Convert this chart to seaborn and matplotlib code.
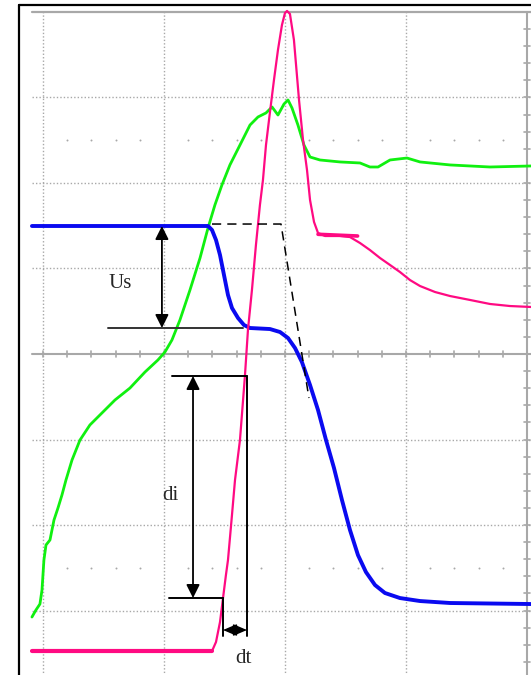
import numpy as np
import seaborn as sns
import matplotlib.pyplot as plt

# scope traces, read in screen divisions (x: time div, y: amplitude div)
blue_t = [-0.091, 1.364, 1.397, 1.430, 1.463, 1.496, 1.529, 1.562, 1.612, 1.661, 1.711, 1.876,
          1.959, 2.025, 2.083, 2.140, 2.207, 2.273, 2.339, 2.405, 2.471, 2.537, 2.603, 2.669,
          2.744, 2.826, 2.950, 3.116, 3.364, 4.033]
blue_v = [1.497, 1.497, 1.450, 1.333, 1.158, 0.924, 0.690, 0.538, 0.421, 0.339, 0.304, 0.292,
          0.257, 0.187, 0.070, -0.094, -0.363, -0.655, -1.006, -1.333, -1.708, -2.058, -2.351, -2.550,
          -2.702, -2.795, -2.854, -2.889, -2.912, -2.924]

green_t = [-0.091, -0.058, -0.025, -0.008, 0.008, 0.025, 0.058, 0.091, 0.124, 0.157, 0.190, 0.240,
           0.306, 0.388, 0.471, 0.595, 0.719, 0.843, 0.950, 1.008, 1.066, 1.132, 1.215, 1.298,
           1.364, 1.421, 1.479, 1.545, 1.628, 1.711, 1.777, 1.843, 1.893, 1.942, 1.992, 2.025,
           2.058, 2.107, 2.157, 2.207, 2.289, 2.455, 2.620, 2.702, 2.769, 2.868, 3.008, 3.116,
           3.364, 3.694, 4.033]
green_v = [-3.076, -2.994, -2.924, -2.760, -2.409, -2.234, -2.175, -1.942, -1.801, -1.649, -1.474, -1.240,
           -1.006, -0.830, -0.713, -0.538, -0.398, -0.211, -0.070, 0.023, 0.164, 0.398, 0.749, 1.123,
           1.474, 1.743, 1.977, 2.211, 2.444, 2.678, 2.772, 2.819, 2.889, 2.795, 2.924, 2.971,
           2.877, 2.678, 2.444, 2.304, 2.269, 2.246, 2.234, 2.187, 2.187, 2.269, 2.292, 2.246,
           2.211, 2.187, 2.199]

pink_t = [-0.091, 1.397, 1.430, 1.463, 1.488, 1.512, 1.529, 1.562, 1.587, 1.628, 1.669, 1.694,
          1.727, 1.760, 1.793, 1.818, 1.843, 1.876, 1.909, 1.942, 1.975, 2.000, 2.017, 2.041,
          2.074, 2.116, 2.149, 2.182, 2.207, 2.240, 2.273, 2.331, 2.455, 2.537, 2.620, 2.702,
          2.785, 2.868, 2.950, 3.033, 3.116, 3.240, 3.364, 3.529, 3.694, 3.860, 4.033]
pink_v = [-3.474, -3.474, -3.368, -3.135, -2.854, -2.585, -2.409, -1.883, -1.474, -1.006, -0.257, 0.281,
          0.749, 1.275, 1.743, 2.035, 2.444, 2.830, 3.205, 3.556, 3.848, 3.988, 4.012, 3.977,
          3.673, 2.971, 2.503, 2.152, 1.801, 1.544, 1.415, 1.380, 1.380, 1.368, 1.298, 1.216,
          1.123, 1.041, 0.959, 0.865, 0.795, 0.725, 0.678, 0.632, 0.585, 0.561, 0.550]

# annotation geometry (divisions)
dash_t = [1.397, 1.967, 2.198]
dash_v = [1.520, 1.520, -0.515]
us_level = [1.497, 0.304]
di_level = [-0.257, -2.854]
dt_span = [1.488, 1.686]

GRID = '#a8a8a8'
FONT = ['Liberation Serif', 'DejaVu Serif']

sns.set_style('white')
fig = plt.figure(figsize=(5.31, 6.75), dpi=100)
ax = fig.add_axes([0, 0, 1, 1])
ax.set_xlim(-0.355, 4.033)
ax.set_ylim(-3.754, 4.140)
ax.axis('off')

# graticule
for t in [0, 1, 2, 3]:
    ax.plot([t, t], [-3.8, 4.0], color=GRID, lw=1, ls=(0, (1, 1.5)), zorder=1)
for v in [-3, -2, -1, 1, 2, 3]:
    ax.plot([-0.09, 4.05], [v, v], color=GRID, lw=1, ls=(0, (1, 1.5)), zorder=1)
ax.plot([-0.09, 4.05], [0, 0], color=GRID, lw=1.5, zorder=1)
ax.plot([4.0, 4.0], [-3.8, 4.0], color=GRID, lw=1.5, zorder=1)
ax.plot([-0.09, 4.05], [4.0, 4.0], color=GRID, lw=1.6, zorder=1)
for t in np.arange(-0.0, 4.01, 0.2):
    ax.plot([t, t], [-0.035, 0.035], color=GRID, lw=1.2, zorder=1)
for v in np.arange(-3.8, 4.0, 0.2):
    ax.plot([3.975, 4.025], [v, v], color=GRID, lw=1.2, zorder=1)
dots = [t for t in np.arange(0.2, 4.0, 0.2) if abs(t - round(t)) > 0.05]
for v in [2.5, -2.5]:
    ax.scatter(dots, [v] * len(dots), s=2.0, color=GRID, lw=0, zorder=1)

# outer frame
ax.plot([-0.198, 4.1], [4.082, 4.082], color='black', lw=1.6, zorder=2)
ax.plot([-0.198, -0.198], [-3.8, 4.082], color='black', lw=1.6, zorder=2)

# traces
sns.lineplot(x=green_t, y=green_v, ax=ax, color='#10f010', lw=2.0, sort=False, estimator=None, zorder=3)
sns.lineplot(x=blue_t, y=blue_v, ax=ax, color='#0a0af0', lw=2.8, sort=False, estimator=None, zorder=4)
sns.lineplot(x=pink_t, y=pink_v, ax=ax, color='#ff0a82', lw=1.6, sort=False, estimator=None, zorder=5)
ax.plot([-0.091, 1.397], [-3.474, -3.474], color='#ff0a82', lw=3.0, zorder=5)
ax.plot([2.273, 2.6], [1.40, 1.38], color='#ff0a82', lw=2.6, zorder=5)

# annotations
ax.plot(dash_t, dash_v, color='black', lw=1.1, ls=(0, (6, 4)), zorder=6)
arr = dict(arrowstyle='<|-|>', color='black', lw=1.3, mutation_scale=20, shrinkA=0, shrinkB=0)
ax.plot([0.537, 1.653], [us_level[1], us_level[1]], color='#333333', lw=1.4, zorder=6)
ax.annotate('', xy=(0.983, us_level[0]), xytext=(0.983, us_level[1]), arrowprops=arr, zorder=6)
ax.text(0.636, 0.830, 'Us', fontsize=15, family=FONT, ha='center', va='center')

ax.plot([1.066, 1.686], [di_level[0], di_level[0]], color='black', lw=1.4, zorder=6)
ax.plot([1.041, 1.488], [di_level[1], di_level[1]], color='black', lw=1.4, zorder=6)
ax.plot([1.686, 1.686], [di_level[0], -3.298], color='black', lw=1.4, zorder=6)
ax.plot([1.488, 1.488], [di_level[1], -3.298], color='black', lw=1.4, zorder=6)
ax.annotate('', xy=(1.240, di_level[0]), xytext=(1.240, di_level[1]), arrowprops=arr, zorder=6)
ax.text(1.050, -1.649, 'di', fontsize=15, family=FONT, ha='center', va='center')

arr_dt = dict(arrowstyle='<|-|>,head_length=0.7,head_width=0.3', color='black', lw=1.0,
              mutation_scale=12, shrinkA=0, shrinkB=0)
ax.annotate('', xy=(dt_span[0], -3.228), xytext=(dt_span[1], -3.228), arrowprops=arr_dt, zorder=6)
ax.text(1.653, -3.556, 'dt', fontsize=15, family=FONT, ha='center', va='center')

fig.savefig('out.png', dpi=100)
